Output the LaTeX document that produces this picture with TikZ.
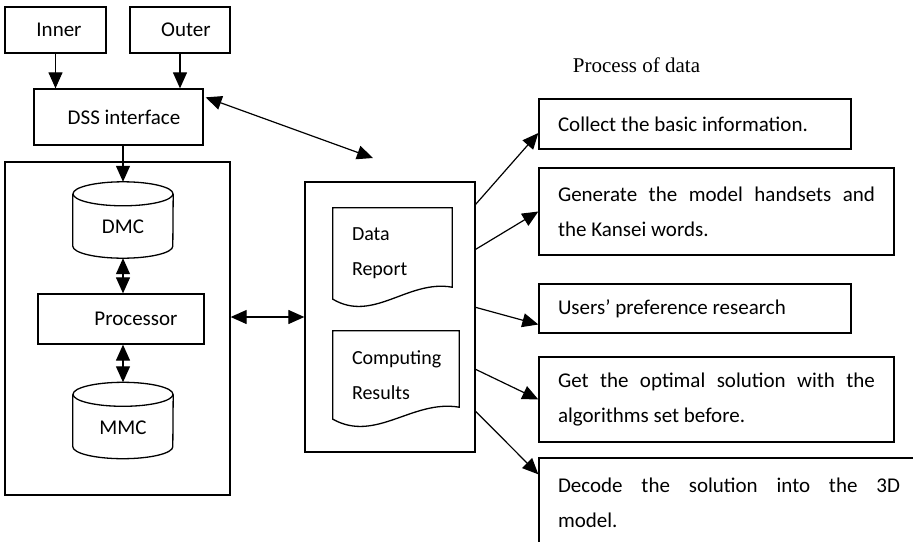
\documentclass[tikz,border=0pt]{standalone}
\usepackage{fontspec}
\setmainfont{Carlito}
\newfontfamily\timesfont{Liberation Serif}
\usetikzlibrary{calc,arrows.meta}
\tikzstyle{box}=[draw,line width=1.3pt,inner sep=0pt]
\tikzstyle{taskbox}=[box,inner xsep=19pt,align=justify]
\tikzstyle{shapenode}=[inner sep=0pt] % outline drawn by a macro below
\tikzstyle{arr}=[line width=1.2pt,-{Triangle[length=16pt,width=14pt]}]
\tikzstyle{dblarr}=[line width=1.2pt,{Triangle[length=16pt,width=14pt]}-{Triangle[length=16pt,width=14pt]}]
\newcommand{\drawcyl}[1]{% Syntax: {node name}, ellipse half height 12
    \draw[line width=1.3pt] ($(#1.north)+(0,12)$) ellipse (50pt and 12pt);
    \draw[line width=1.3pt] ($(#1.north west)+(0,12)$) -- ($(#1.south west)+(0,-12)$) arc (180:360:50pt and 12pt) -- ($(#1.north east)+(0,12)$);
}
\newcommand{\drawdoc}[1]{% Syntax: {node name}, wavy bottom edge
    \draw[line width=1.3pt] (#1.south west) .. controls ($(#1.south west)!0.34!(#1.south east)+(0,24)$) and ($(#1.south west)!0.63!(#1.south east)+(0,-20)$) .. ($(#1.south east)+(0,-12)$) -- (#1.north east) -- (#1.north west) -- cycle;
}

\begin{document}
\begin{tikzpicture}[x=1pt,y=-1pt,font=\fontsize{21}{35}\selectfont]
\useasboundingbox (0,0) rectangle (913,541);
\clip (0,0) rectangle (913,541);

% sources and interface
\node[box,minimum width=101,minimum height=46] (inner) at (55.5,30) {\hspace{7pt}Inner};
\node[box,minimum width=100,minimum height=46] (outer) at (180,30) {\hspace{12pt}Outer};
\node[box,minimum width=169,minimum height=56] (dss) at (118.5,117) {\hspace{11pt}DSS interface};
\draw[arr] (inner) -- (inner |- dss.north);
\draw[arr] (outer) -- (outer |- dss.north);

% decision system
\node[box,minimum width=225,minimum height=333] (left) at (117.5,328.5) {};
\node[shapenode,minimum width=100,minimum height=76] (dmc) at (123,220) {};
\drawcyl{dmc}
\node (dmctext) at ($(dmc.center)+(0,7)$) {DMC};
\node[box,minimum width=166,minimum height=50] (proc) at (121,319) {\hspace{30pt}Processor};
\node[shapenode,minimum width=100,minimum height=76] (mmc) at (123,420.5) {};
\drawcyl{mmc}
\node (mmctext) at ($(mmc.center)+(0,7)$) {MMC};
\draw[arr] (dss.south -| dmc.north) -- (dmc.north);
\draw[dblarr] (dmc.south) -- (dmc.south |- proc.north);
\draw[dblarr] (mmc.north |- proc.south) -- (mmc.north);

% data and results
\node[box,minimum width=170,minimum height=270] (mid) at (390,317) {};
\begin{scope}[font=\fontsize{20}{35}\selectfont]
	\node[shapenode,minimum width=119,minimum height=91,text width=81,align=left] (datarep) at (392.5,253.5) {Data\\Report};
	\drawdoc{datarep}
	\node[shapenode,minimum width=126,minimum height=88,text width=88,align=left] (results) at (396,375) {Computing\\Results};
	\drawdoc{results}
\end{scope}
\draw[dblarr] (mid.west) -- (mid.west -| left.east);
\coordinate (dsstip) at (373,158);
\draw[dblarr] ($(dss.north east)+(2,9)$) -- (dsstip);

% process of data
\node[font=\timesfont\fontsize{21}{25}\selectfont] (title) at (636.5,65) {Process of data};
\node[taskbox,text width=274,minimum height=50] (collect) at (695,124) {Collect the basic information.};
\node[taskbox,text width=317,minimum height=87] (generate) at (716.5,211.5) {Generate the model handsets and\linebreak the Kansei words.};
\node[taskbox,text width=274,minimum height=49] (users) at (695,308.5) {Users’ preference research};
\node[taskbox,text width=317,minimum height=85] (getsol) at (716.5,399.5) {Get the optimal solution with the\linebreak algorithms set before.};
\node[taskbox,text width=342,minimum height=90] (decode) at (729,503) {Decode the solution into the 3D\linebreak model.};

\draw[arr] ($(mid.north east)+(0,23)$) -- ($(collect.west)+(0,9)$);
\draw[arr] ($(mid.north east)+(0,68)$) -- (generate.west);
\draw[arr] ($(mid.north east)+(0,126)$) -- ($(users.west)+(0,16)$);
\draw[arr] ($(mid.north east)+(0,188)$) -- (getsol.west);
\draw[arr] ($(mid.north east)+(0,230)$) -- ($(decode.north west)+(0,17)$);
\end{tikzpicture}
\end{document}
